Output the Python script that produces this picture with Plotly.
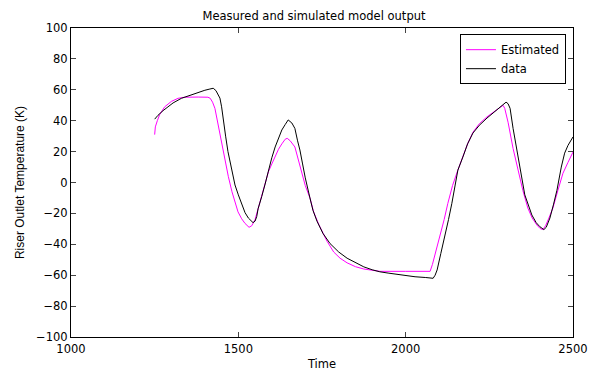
import plotly.graph_objects as go

# Measured data (black)
data_x = [1250, 1260, 1275, 1290, 1305, 1330, 1356, 1380, 1400, 1415, 1425, 1433, 1440, 1445,
          1450, 1454, 1462, 1469, 1480, 1490, 1500, 1511, 1520, 1530, 1538, 1544, 1550, 1555,
          1559, 1565, 1570, 1580, 1590, 1600, 1610, 1620, 1630, 1640, 1649, 1660, 1669, 1677,
          1684, 1692, 1700, 1714, 1723, 1735, 1753, 1774, 1800, 1825, 1850, 1875, 1900, 1923,
          1950, 1975, 1995, 2028, 2060, 2082, 2088, 2094, 2105, 2117, 2128, 2138, 2147, 2156,
          2171, 2185, 2201, 2220, 2243, 2265, 2285, 2300, 2306, 2312, 2321, 2332, 2341, 2356,
          2377, 2390, 2401, 2413, 2420, 2431, 2442, 2452, 2465, 2475, 2485, 2500]
data_y = [41, 43.5, 46.5, 49, 51.5, 54.5, 56.6, 58.5, 59.7, 60.5, 61, 59.5, 57, 54.6,
          49, 42, 30, 20, 8, -1.6, -8, -14.6, -19.5, -23, -25, -26, -25, -22,
          -17, -13, -9, -1, 8, 16, 23, 29, 34, 37.5, 40.5, 38.5, 35, 27,
          21, 12, 3, -10, -18, -25, -33, -39.5, -45, -49, -52, -54.6, -56.5, -57.8,
          -58.7, -59.5, -60, -61, -61.5, -62, -60, -56.6, -46, -35, -24, -13.5, -2, 8,
          16.5, 25, 32, 37, 41.7, 45.5, 49, 52, 51, 48, 35, 22, 9, -8,
          -21, -26, -28.6, -30.5, -29, -23, -14, -5, 10, 19, 24, 29.5]

# Estimated model output (magenta)
est_x = [1250, 1252, 1258, 1265, 1280, 1300, 1320, 1340, 1380, 1409, 1416, 1423, 1430, 1445,
         1460, 1470, 1481, 1490, 1499, 1510, 1520, 1532, 1540, 1550, 1560, 1570, 1580, 1590,
         1600, 1610, 1620, 1630, 1640, 1646, 1655, 1669, 1680, 1690, 1700, 1714, 1725, 1740,
         1765, 1785, 1804, 1825, 1850, 1875, 1900, 1923, 2000, 2073, 2080, 2090, 2102, 2115,
         2126, 2140, 2156, 2171, 2185, 2201, 2220, 2243, 2265, 2280, 2291, 2296, 2306, 2321,
         2336, 2350, 2365, 2378, 2392, 2402, 2410, 2418, 2428, 2440, 2455, 2470, 2485, 2500]
est_y = [31, 36, 40, 44, 49, 52.5, 54.5, 55.2, 55.3, 55.2, 54.5, 52, 48, 31,
         13, 4, -6, -13, -19, -23.5, -26.5, -29, -28, -24, -16, -8, 0, 7,
         12, 17, 21.5, 25, 28, 28.6, 27, 23, 14, 5, -2, -10, -19, -27,
         -38, -45, -49, -52, -54.5, -56, -57, -57.5, -57.5, -57.5, -53, -45, -35, -24,
         -13.5, -2, 8, 17, 25, 32.5, 38, 42.5, 46, 48.5, 50, 48, 39, 22,
         7, -5, -16.5, -23, -27.5, -29.8, -30.5, -28, -23, -16.5, -5, 6, 13, 19.7]

x_ticks = [1000, 1500, 2000, 2500]
y_ticks = [-100, -80, -60, -40, -20, 0, 20, 40, 60, 80, 100]

fig = go.Figure()
fig.add_trace(go.Scatter(x=est_x, y=est_y, mode="lines", name="Estimated",
                         line=dict(color="#ff00ff", width=1)))
fig.add_trace(go.Scatter(x=data_x, y=data_y, mode="lines", name="data",
                         line=dict(color="black", width=1)))

tick_font = dict(family="DejaVu Sans", size=11.5, color="black")

fig.update_layout(
    width=597, height=371, autosize=False,
    margin=dict(l=71, r=24, t=28, b=34),
    paper_bgcolor="white", plot_bgcolor="white",
    showlegend=True,
    title=dict(text="Measured and simulated model output", x=314 / 597, xanchor="center",
               xref="container", y=1 - 16 / 371, yref="container", yanchor="middle",
               font=dict(family="DejaVu Sans", size=11.5, color="black")),
    legend=dict(x=0.986, xanchor="right", y=0.98, yanchor="top",
                bgcolor="white", bordercolor="black", borderwidth=1,
                font=dict(family="DejaVu Sans", size=11.5, color="black"),
                tracegroupgap=0),
    xaxis=dict(range=[1000, 2500], tickvals=x_ticks, ticks="inside", ticklen=5,
               showline=True, linecolor="black", linewidth=1, mirror="ticks",
               showgrid=False, zeroline=False, tickfont=tick_font, ticklabelstandoff=1,
               automargin=False,
               title=dict(text="Time", font=tick_font, standoff=7)),
    yaxis=dict(range=[-100, 100], tickvals=y_ticks, ticks="inside", ticklen=5,
               showline=True, linecolor="black", linewidth=1, mirror="ticks",
               showgrid=False, zeroline=False, tickfont=tick_font, automargin=False,
               title=dict(text="Riser Outlet Temperature (K)",
                          font=dict(family="Liberation Sans", size=12, color="black"),
                          standoff=8)),
)

fig.write_html("out.html")
